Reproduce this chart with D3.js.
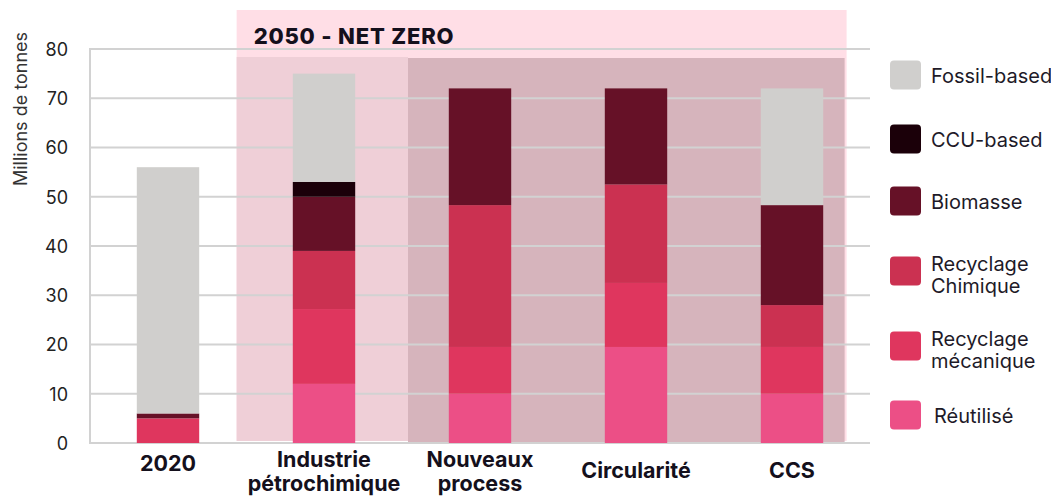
<!DOCTYPE html>
<html><head><meta charset="utf-8">
<script src="https://cdn.jsdelivr.net/npm/d3@7"></script>
<style>body{margin:0;background:#fff}svg{display:block}</style>
</head><body><svg id="chart" width="1051" height="499"></svg>
<script>
// ---- data ----
const categories = ["2020", "Industrie pétrochimique", "Nouveaux process", "Circularité", "CCS"];
const categoryLines = [["2020"], ["Industrie", "pétrochimique"], ["Nouveaux", "process"], ["Circularité"], ["CCS"]];
const seriesKeys = ["Réutilisé", "Recyclage mécanique", "Recyclage Chimique", "Biomasse", "CCU-based", "Fossil-based"];
const reutilise          = [0,   12,   10,   19.5, 10];
const recyclageMecanique = [5,   15.2, 9.5,  13,   9.5];
const recyclageChimique  = [0,   11.8, 28.8, 20,   8.5];
const biomasse           = [1,   11,   23.7, 19.5, 20.3];
const ccuBased           = [0,   3,    0,    0,    0];
const fossilBased        = [50,  22,   0,    0,    23.7];
const yTicks = [0, 10, 20, 30, 40, 50, 60, 70, 80];
const legendOrder = ["Fossil-based", "CCU-based", "Biomasse", "Recyclage Chimique", "Recyclage mécanique", "Réutilisé"];
const legendLines = [["Fossil-based"], ["CCU-based"], ["Biomasse"], ["Recyclage", "Chimique"], ["Recyclage", "mécanique"], ["Réutilisé"]];
const headerTitle = "2050 - NET ZERO";
const yTitle = "Millions de tonnes";

// ---- style ----
const colorMap = {
  "Réutilisé": "#ec4f86",
  "Recyclage mécanique": "#df365e",
  "Recyclage Chimique": "#cb3151",
  "Biomasse": "#661127",
  "CCU-based": "#1b0009",
  "Fossil-based": "#d0cfcd"
};
const FONT = "Inter, Lato, sans-serif";

const svg = d3.select("#chart");
const W = 1051, H = 499;
const margin = {left: 90, right: 181, top: 49, bottom: 56};
const plotR = W - margin.right;
const plotB = H - margin.bottom;

const x = d3.scaleBand().domain(categories).range([margin.left, plotR]).paddingInner(0.6).paddingOuter(0.3);
const y = d3.scaleLinear().domain([0, 80]).range([plotB, margin.top]);

const table = categories.map((c, i) => ({
  cat: c,
  "Réutilisé": reutilise[i],
  "Recyclage mécanique": recyclageMecanique[i],
  "Recyclage Chimique": recyclageChimique[i],
  "Biomasse": biomasse[i],
  "CCU-based": ccuBased[i],
  "Fossil-based": fossilBased[i]
}));
const stacked = d3.stack().keys(seriesKeys)(table);

// ---- backgrounds ----
const step = x.step();
const c1 = x(categories[1]) + x.bandwidth() / 2;
const c2 = x(categories[2]) + x.bandwidth() / 2;
const c4 = x(categories[4]) + x.bandwidth() / 2;
const headerL = c1 - 0.56 * step, headerR = c4 + 0.35 * step;
svg.append("rect").attr("x", headerL).attr("y", 10).attr("width", headerR - headerL).attr("height", plotB - 2 - 10).attr("fill", "#ffdee6");
const split = (c1 + c2) / 2 + 6;
svg.append("rect").attr("x", headerL).attr("y", 57).attr("width", split - headerL).attr("height", plotB - 2 - 57).attr("fill", "#efcfd7");
svg.append("rect").attr("x", split).attr("y", 58).attr("width", headerR - 2 - split).attr("height", plotB - 58).attr("fill", "#d6b4bc");

// ---- gridlines ----
svg.append("g").selectAll("line").data(yTicks).join("line")
  .attr("x1", margin.left).attr("x2", plotR)
  .attr("y1", d => y(d)).attr("y2", d => y(d))
  .attr("stroke", "#d2d2d2").attr("stroke-width", 2);
svg.append("line").attr("x1", margin.left).attr("x2", margin.left)
  .attr("y1", y(80) - 1).attr("y2", plotB + 1).attr("stroke", "#d2d2d2").attr("stroke-width", 2);

// ---- header title ----
svg.append("text").attr("x", headerL + 17).attr("y", 43.5).text(headerTitle)
  .attr("font-family", FONT).attr("font-weight", 800).attr("font-size", 22)
  .attr("letter-spacing", 0.8).attr("fill", "#14101c");

// ---- bars ----
svg.append("g").selectAll("g").data(stacked).join("g")
  .attr("fill", d => colorMap[d.key])
  .selectAll("rect").data(d => d).join("rect")
  .attr("x", d => x(d.data.cat))
  .attr("width", x.bandwidth())
  .attr("y", d => y(d[1]))
  .attr("height", d => y(d[0]) - y(d[1]));

// ---- y axis labels ----
const yAxis = d3.axisLeft(y).tickValues(yTicks).tickSize(0).tickPadding(0);
const ya = svg.append("g").attr("transform", `translate(${margin.left - 22},0)`).call(yAxis);
ya.select(".domain").remove();
ya.selectAll("text").attr("font-family", FONT).attr("font-size", 18).attr("fill", "#222").attr("dy", "0.36em");

svg.append("text").attr("transform", `translate(27,109) rotate(-90)`).attr("text-anchor", "middle")
  .attr("font-family", FONT).attr("font-size", 18).attr("fill", "#333").text(yTitle);

// ---- x labels ----
const xLabelBase = [471, 467, 467, 478, 478];
const xg = svg.append("g");
categories.forEach((c, i) => {
  const t = xg.append("text").attr("x", x(c) + x.bandwidth() / 2).attr("y", xLabelBase[i])
    .attr("text-anchor", "middle").attr("font-family", FONT).attr("font-weight", 700)
    .attr("font-size", 21.5).attr("fill", "#14101c");
  categoryLines[i].forEach((ln, j) => t.append("tspan").attr("x", x(c) + x.bandwidth() / 2).attr("dy", j ? 24 : 0).text(ln));
});

// ---- legend ----
const legendCY = [75, 139, 201, 271, 346, 415];
const lg = svg.append("g");
legendOrder.forEach((k, i) => {
  lg.append("rect").attr("x", 890).attr("y", legendCY[i] - 14.5).attr("width", 31).attr("height", 29)
    .attr("rx", 4).attr("fill", colorMap[k]);
  const lines = legendLines[i];
  const t = lg.append("text").attr("font-family", FONT).attr("font-size", 20).attr("fill", "#1e1a28");
  const tx = k === "Réutilisé" ? 934 : 931;
  const firstBase = lines.length > 1 ? legendCY[i] - 0.5 : legendCY[i] + 7.5;
  lines.forEach((ln, j) => t.append("tspan").attr("x", tx).attr("y", firstBase + j * 22.5).text(ln));
});
</script></body></html>
